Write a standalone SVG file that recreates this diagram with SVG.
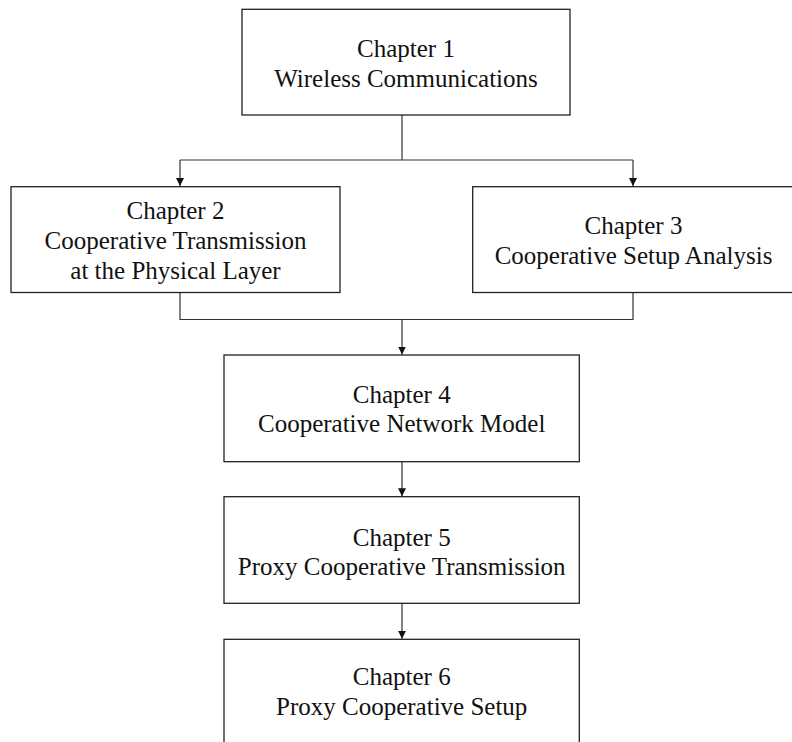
<svg xmlns="http://www.w3.org/2000/svg" width="792" height="742" viewBox="0 0 792 742">
<style>
.box{fill:#fff;stroke:#222;stroke-width:1.3}
.lbl{font-family:"Liberation Serif","Times New Roman",serif;font-size:25px;fill:#111;text-anchor:middle}
.con{fill:none;stroke:#333;stroke-width:1.2}
</style>
<defs>
<marker id="arr" markerUnits="userSpaceOnUse" markerWidth="10" markerHeight="10" refX="8" refY="4" orient="auto">
<path d="M0,0 L8,4 L0,8 Z" fill="#111"/>
</marker>
</defs>
<rect width="792" height="742" fill="#fff"/>
<g id="connectors">
<path class="con" d="M402,115 V160"/>
<path class="con" d="M180,160 H633"/>
<path class="con" d="M180,160 V186" marker-end="url(#arr)"/>
<path class="con" d="M633,160 V186" marker-end="url(#arr)"/>
<path class="con" d="M180,292.5 V319.5 H633 V292.5"/>
<path class="con" d="M402,319.5 V354.5" marker-end="url(#arr)"/>
<path class="con" d="M402,461.7 V496.3" marker-end="url(#arr)"/>
<path class="con" d="M402,603.3 V638.8" marker-end="url(#arr)"/>
</g>
<g id="ch1">
<rect class="box" x="242" y="9.3" width="328" height="105.7"/>
<text class="lbl" x="406" y="57.3">Chapter 1</text>
<text class="lbl" x="406" y="87.3">Wireless Communications</text>
</g>
<g id="ch2">
<rect class="box" x="11" y="186.7" width="329" height="105.8"/>
<text class="lbl" x="175.5" y="219.3">Chapter 2</text>
<text class="lbl" x="175.5" y="249.3">Cooperative Transmission</text>
<text class="lbl" x="175.5" y="279.3">at the Physical Layer</text>
</g>
<g id="ch3">
<rect class="box" x="472.7" y="186.7" width="322" height="105.8"/>
<text class="lbl" x="633.5" y="234">Chapter 3</text>
<text class="lbl" x="633.5" y="263.5">Cooperative Setup Analysis</text>
</g>
<g id="ch4">
<rect class="box" x="224" y="355" width="355.3" height="106.7"/>
<text class="lbl" x="401.7" y="402.7">Chapter 4</text>
<text class="lbl" x="401.7" y="432.3">Cooperative Network Model</text>
</g>
<g id="ch5">
<rect class="box" x="224" y="496.7" width="355.3" height="106.6"/>
<text class="lbl" x="401.7" y="546">Chapter 5</text>
<text class="lbl" x="401.7" y="575.3">Proxy Cooperative Transmission</text>
</g>
<g id="ch6">
<rect class="box" x="224" y="639.3" width="355.3" height="120"/>
<text class="lbl" x="401.7" y="685.3">Chapter 6</text>
<text class="lbl" x="401.7" y="714.5">Proxy Cooperative Setup</text>
</g>
</svg>
